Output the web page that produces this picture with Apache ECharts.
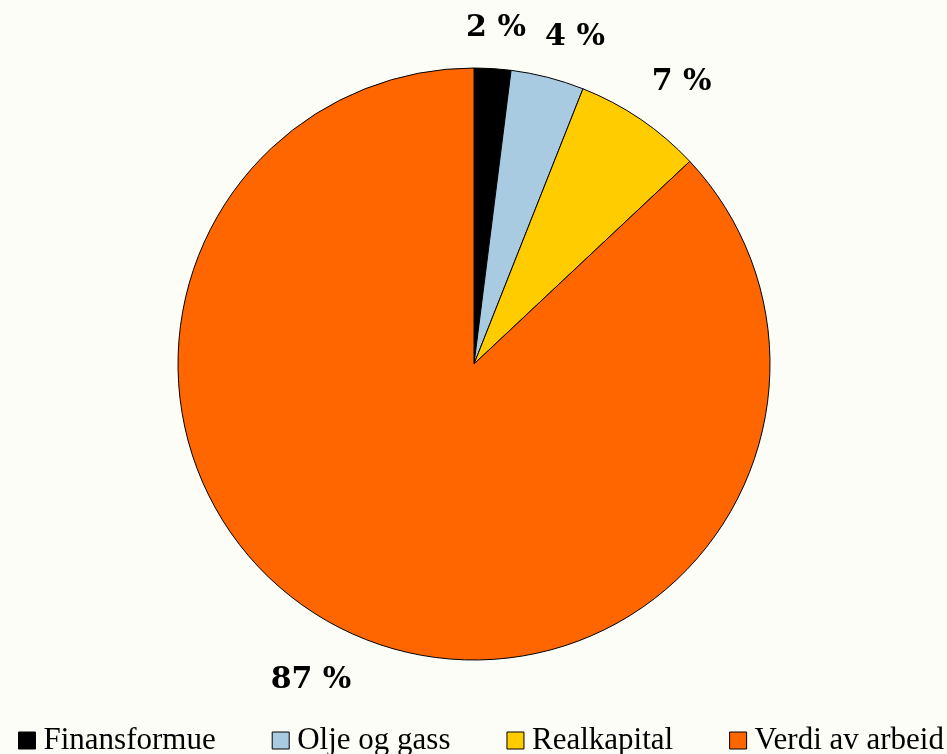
<!DOCTYPE html>
<html>
<head>
<meta charset="utf-8">
<script src="https://cdn.jsdelivr.net/npm/echarts@6/dist/echarts.min.js"></script>
<style>
  html, body { margin: 0; padding: 0; background: #fdfdf8; }
  #chart { width: 947px; height: 754px; }
</style>
</head>
<body>
<div id="chart"></div>
<script>
  // shares of national wealth, percent
  var categories = ["Finansformue", "Olje og gass", "Realkapital", "Verdi av arbeid"];
  var values = [2, 4, 7, 87];
  var colors = ["#000000", "#a8cbe2", "#ffcc00", "#ff6600"];

  // small label tweaks so they sit like the original
  var labelAlign = ["center", null, null, null];
  var labelShift = [[-4, -2], [-17, -3], [-15, -6], [15, 10]];

  var chartDom = document.getElementById("chart");
  var myChart = echarts.init(chartDom, null, { renderer: "canvas" });

  var option = {
    backgroundColor: "#fdfdf8",
    animation: false,
    legend: {
      left: 18,
      top: 725,
      padding: 0,
      itemWidth: 17,
      itemHeight: 17,
      itemGap: 56,
      icon: "rect",
      itemStyle: { borderColor: "#000", borderWidth: 1 },
      textStyle: {
        fontFamily: "Liberation Serif",
        fontSize: 31,
        color: "#000",
        padding: [0, 0, 0, 3],
      },
      data: categories,
    },
    series: [
      {
        type: "pie",
        center: [474, 364],
        radius: 296,
        startAngle: 90,
        clockwise: true,
        avoidLabelOverlap: false,
        itemStyle: { borderColor: "#000", borderWidth: 1 },
        label: {
          show: true,
          position: "outside",
          formatter: "{c} %",
          fontFamily: "DejaVu Serif",
          fontWeight: "bold",
          fontSize: 30,
          color: "#000",
        },
        labelLine: { show: false, length: 38, length2: 0 },
        labelLayout: function (params) {
          var i = params.dataIndex;
          var out = { dx: labelShift[i][0], dy: labelShift[i][1] };
          if (labelAlign[i]) out.align = labelAlign[i];
          return out;
        },
        emphasis: { disabled: true },
        data: categories.map(function (name, i) {
          return { name: name, value: values[i], itemStyle: { color: colors[i] } };
        }),
      },
    ],
  };

  myChart.setOption(option);
</script>
</body>
</html>
